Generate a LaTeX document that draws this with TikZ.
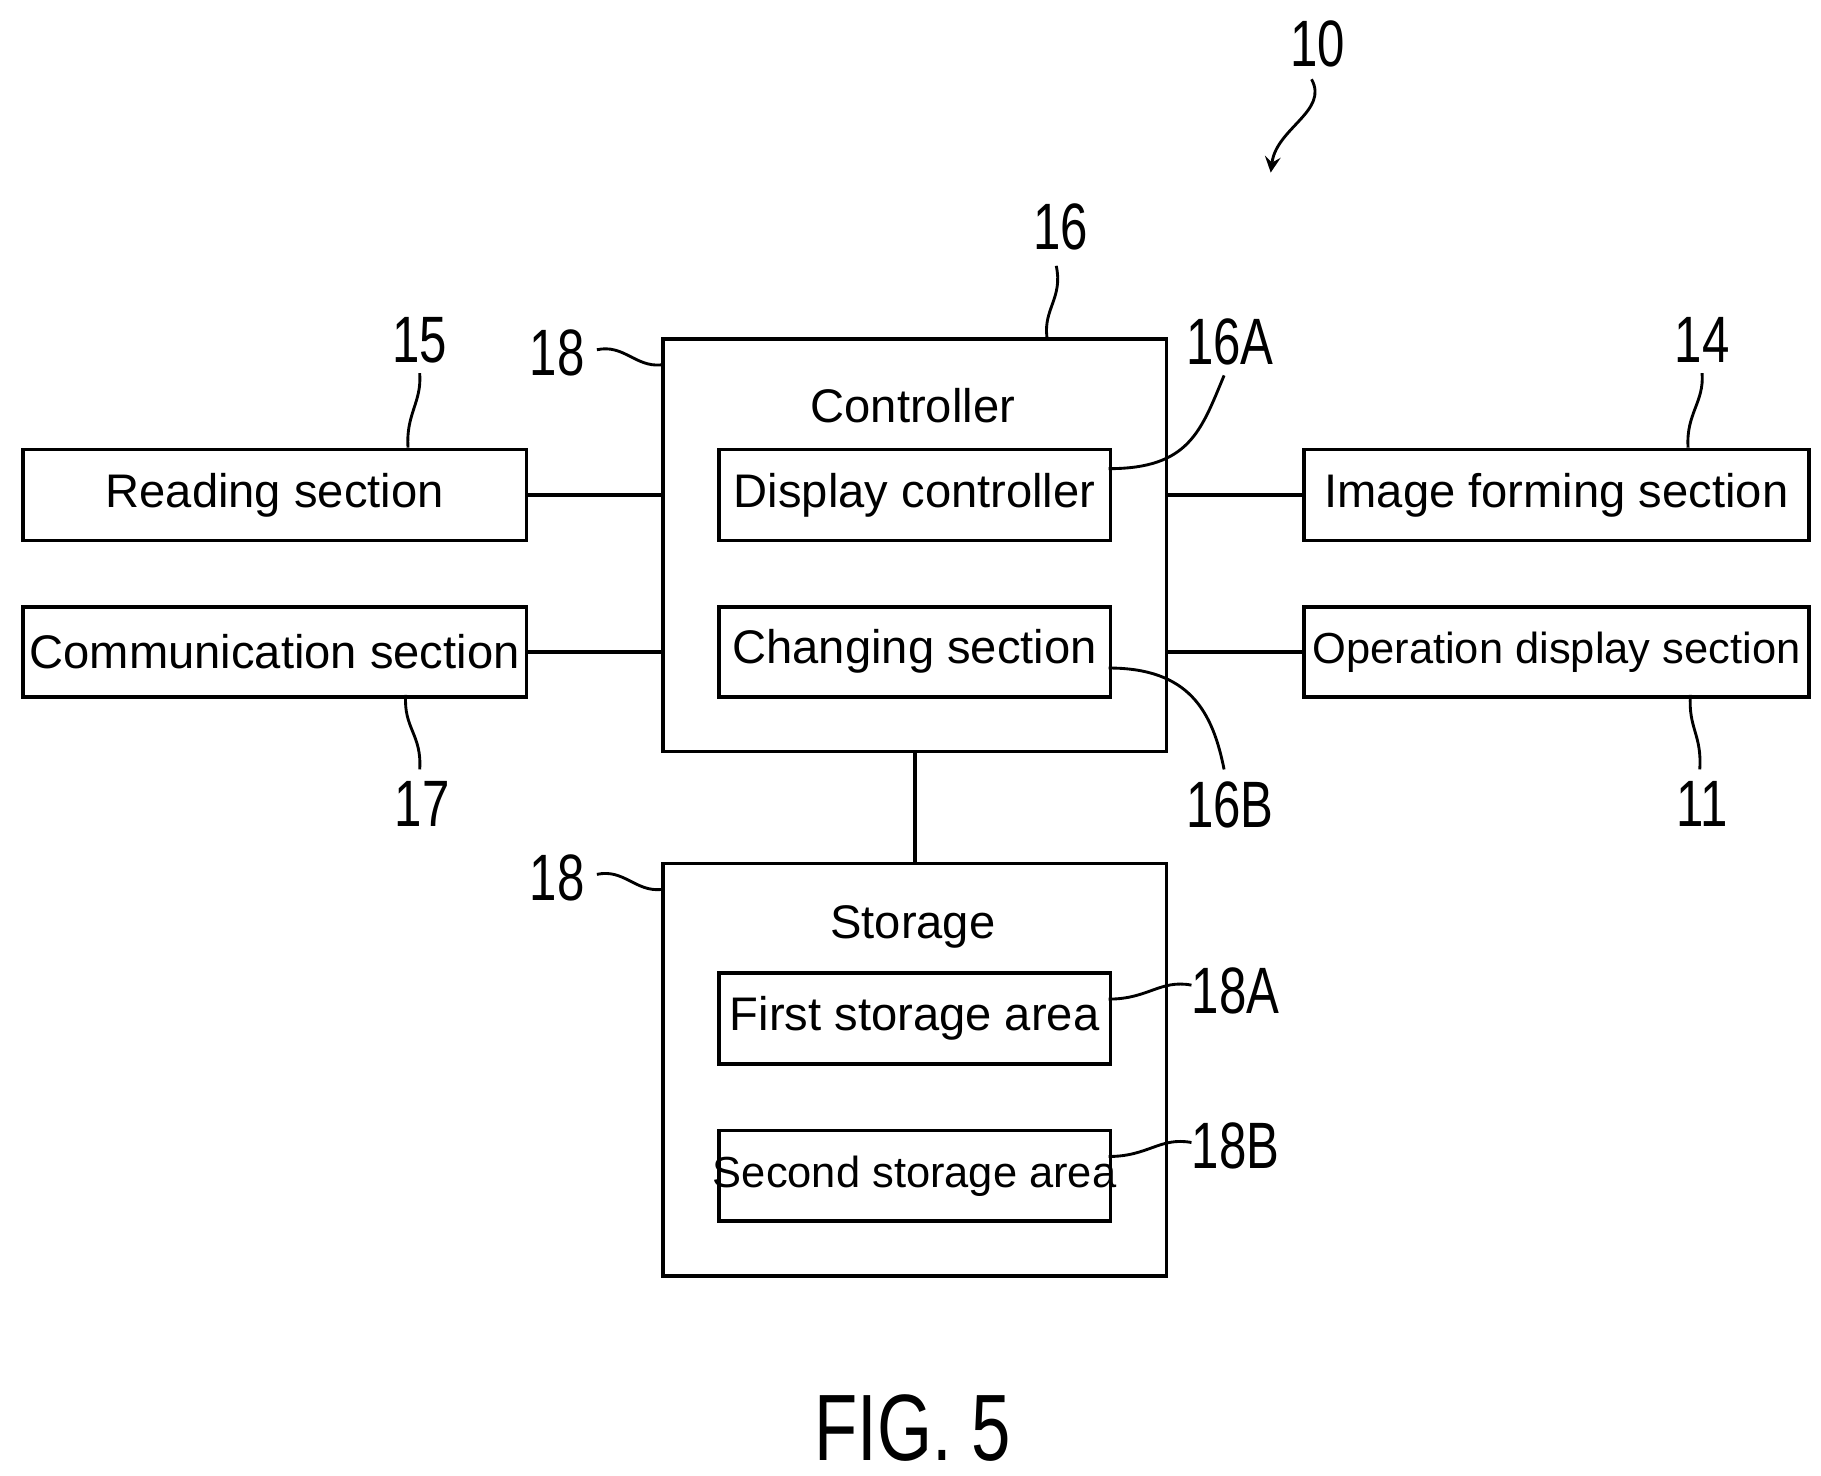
\documentclass[tikz,border=0pt]{standalone}
\usepackage{fontspec}
\setmainfont{Liberation Sans}
\newfontfamily\narrowf[FakeStretch=0.75]{Liberation Sans}
\begin{document}
\begin{tikzpicture}[x=0.01cm,y=-0.01cm,
 box/.style={draw,line width=0.9pt,inner sep=0pt},
 txt/.style={font=\fontsize{11.5}{13}\selectfont},
 stxt/.style={font=\fontsize{10.6}{12}\selectfont},
 num/.style={font=\narrowf\fontsize{16}{18}\selectfont},
 lead/.style={line width=0.7pt},
 con/.style={line width=0.9pt}]
\useasboundingbox (0,0) rectangle (1562,1266);
\newcommand{\bx}[5]{\node[box,minimum width=#4*0.01cm,minimum height=#5*0.01cm,anchor=north west] (#1) at (#2,#3) {};}
\bx{read}{18}{384}{432}{78}
\bx{comm}{18}{519}{432}{77}
\bx{ctrl}{567}{289}{432}{354}
\bx{disp}{615}{384}{336}{78}
\bx{chg}{615}{519}{336}{77}
\bx{img}{1117}{384}{433}{78}
\bx{op}{1117}{519}{433}{77}
\bx{stor}{567}{739}{432}{354}
\bx{fst}{615}{833}{336}{78}
\bx{snd}{615}{968}{336}{78}
\node[txt] at (read.center) {Reading section};
\node[txt] at (comm.center) {Communication section};
\node[txt] at (disp.center) {Display controller};
\node[txt] at (chg.center) {Changing section};
\node[txt] at (img.center) {Image forming section};
\node[stxt] at (op.center) {Operation display section};
\node[txt] at (fst.center) {First storage area};
\node[stxt] at (snd.center) {Second storage area};
\node[txt] (ct) at (783,348) {Controller};
\node[txt] (st) at (783,795) {Storage};
\draw[con] (read.east) -- (ctrl.west |- read.east);
\draw[con] (comm.east) -- (ctrl.west |- comm.east);
\draw[con] (img.west) -- (ctrl.east |- img.west);
\draw[con] (op.west) -- (ctrl.east |- op.west);
\draw[con] (ctrl.south) -- (stor.north);
% labels
\node[num] (n10) at (1130,38) {10};
\coordinate (a10) at (1090,148);
\draw[lead,-stealth] (1125,68) .. controls (1140,95) and (1095,110) .. (a10);
\node[num] (n16) at (910,195) {16};
\draw[lead] (906,228) .. controls (912,255) and (895,265) .. (898,289);
\node[num] (n15) at (360,292) {15};
\draw[lead] (360,320) .. controls (362,345) and (348,355) .. (350,384);
\node[num] (n14) at (1460,292) {14};
\draw[lead] (1460,320) .. controls (1462,345) and (1446,355) .. (1448,384);
\node[num] (n18a) at (478,303) {18};
\draw[lead] (512,300) .. controls (535,295) and (545,315) .. (567,313);
\node[num] (n18b) at (478,753) {18};
\draw[lead] (512,750) .. controls (535,745) and (545,765) .. (567,763);
\node[num] (n16A) at (1055,293) {16A};
\draw[lead] (1050,322) .. controls (1030,370) and (1020,402) .. (951,402);
\node[num] (n16B) at (1055,690) {16B};
\draw[lead] (1050,660) .. controls (1040,610) and (1020,573) .. (951,573);
\node[num] (n17) at (362,690) {17};
\draw[lead] (360,660) .. controls (362,630) and (346,625) .. (348,596);
\node[num] (n11) at (1460,690) {11};
\draw[lead] (1458,660) .. controls (1460,630) and (1448,625) .. (1450,596);
\node[num] (n18A) at (1060,850) {18A};
\draw[lead] (1022,845) .. controls (995,840) and (985,857) .. (951,857);
\node[num] (n18B) at (1060,983) {18B};
\draw[lead] (1022,980) .. controls (995,975) and (985,992) .. (951,992);
\node[font=\narrowf\fontsize{23}{25}\selectfont] (fig) at (783,1225) {FIG. 5};
\end{tikzpicture}
\end{document}
